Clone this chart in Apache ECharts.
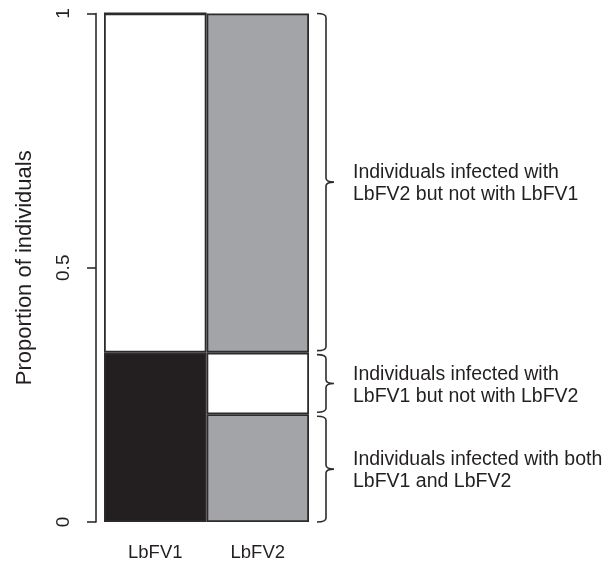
<!DOCTYPE html>
<html>
<head>
<meta charset="utf-8">
<script src="https://cdn.jsdelivr.net/npm/echarts@6/dist/echarts.min.js"></script>
<style>html,body{margin:0;padding:0;background:#fff}#c{width:616px;height:564px}</style>
</head>
<body>
<div id="c"></div>
<script>
// ---- data ----
const categories = ['LbFV1', 'LbFV2'];
// bottom segment: LbFV1 infected (black) / infected with both (gray)
const bottomSeg = [0.333, 0.212];
// middle segment: LbFV1 not infected (white) / LbFV1 but not LbFV2 (white)
const middleSeg = [0.667, 0.121];
// top segment: none / LbFV2 but not LbFV1 (gray)
const topSeg = [0, 0.667];
const yTicks = [0, 0.5, 1];
const braceLabels = [
  'Individuals infected with both\nLbFV1 and LbFV2',
  'Individuals infected with\nLbFV1 but not with LbFV2',
  'Individuals infected with\nLbFV2 but not with LbFV1'
];

// ---- styles ----
const BLACK = '#231f20', GRAY = '#a3a4a7', WHITE = '#ffffff', LINE = '#2e2b2c';
const FONT = "'Liberation Sans', Arial, Helvetica, sans-serif";
const bottomColors = [BLACK, GRAY];
const middleColors = [WHITE, WHITE];
const topColors = [WHITE, GRAY];

// brace ranges from the LbFV2 column stack
const segs = [bottomSeg[1], middleSeg[1], topSeg[1]];
const braceData = [];
let acc = 0;
segs.forEach((v, i) => { braceData.push([1, acc, acc + v, i]); acc += v; });

function mk(vals, cols) {
  return vals.map((v, i) => ({ value: v, itemStyle: { color: cols[i] } }));
}
const barStyle = { borderColor: LINE, borderWidth: 1.8 };

const chart = echarts.init(document.getElementById('c'), null, { renderer: 'canvas' });
chart.setOption({
  animation: false,
  backgroundColor: '#fff',
  grid: { left: 104, right: 307, top: 13.5, bottom: 42, containLabel: false },
  xAxis: {
    type: 'category', data: categories,
    axisLine: { show: false }, axisTick: { show: false },
    axisLabel: { color: '#231f20', fontSize: 18.5, fontFamily: FONT, margin: 21 }
  },
  yAxis: {
    type: 'value', min: 0, max: 1, interval: 0.5, offset: 8,
    name: 'Proportion of individuals', nameLocation: 'middle', nameGap: 60,
    nameTextStyle: { color: '#231f20', fontSize: 22, fontFamily: FONT },
    axisLine: { show: true, lineStyle: { color: LINE, width: 1.6 } },
    axisTick: { show: true, length: 9, lineStyle: { color: LINE, width: 1.6 } },
    axisLabel: { color: '#231f20', fontSize: 19, fontFamily: FONT, rotate: 90, margin: 23,
      formatter: v => (yTicks.includes(v) ? String(v) : '') },
    splitLine: { show: false }
  },
  series: [
    { type: 'bar', stack: 's', barCategoryGap: 0, data: mk(bottomSeg, bottomColors), itemStyle: barStyle },
    { type: 'bar', stack: 's', barCategoryGap: 0, data: mk(middleSeg, middleColors), itemStyle: barStyle },
    { type: 'bar', stack: 's', barCategoryGap: 0, data: mk(topSeg, topColors), itemStyle: barStyle },
    {
      type: 'custom', clip: false, silent: true, z: 10,
      data: braceData,
      renderItem: function (params, api) {
        const lo = api.coord([api.value(0), api.value(1)]);
        const hi = api.coord([api.value(0), api.value(2)]);
        const bw = api.size([1, 0])[0];
        const x0 = lo[0] + bw / 2 + 8;
        const x1 = x0 + 9;
        const x2 = x1 + 8;
        const gapLo = api.value(1) === 0 ? 0 : 2;
        const gapHi = api.value(2) >= 0.999 ? 0 : 2;
        const yb = lo[1] - gapLo; // bottom (larger pixel y)
        const yt = hi[1] + gapHi;  // top
        const ym = (yb + yt) / 2;
        const r = 4;
        const path = `M${x0},${yt} Q${x1},${yt} ${x1},${yt + r} L${x1},${ym - r} Q${x1},${ym} ${x2},${ym} ` +
          `M${x2},${ym} Q${x1},${ym} ${x1},${ym + r} L${x1},${yb - r} Q${x1},${yb} ${x0},${yb}`;
        return {
          type: 'group',
          children: [
            { type: 'path', shape: { pathData: path }, style: { fill: 'none', stroke: LINE, lineWidth: 1.6 } },
            { type: 'text', x: x2 + 19, y: ym + 2,
              style: { text: braceLabels[api.value(3)], fill: '#231f20', font: `19.5px ${FONT}`,
                verticalAlign: 'middle', align: 'left', lineHeight: 22 } }
          ]
        };
      }
    }
  ]
});
</script>
</body>
</html>
